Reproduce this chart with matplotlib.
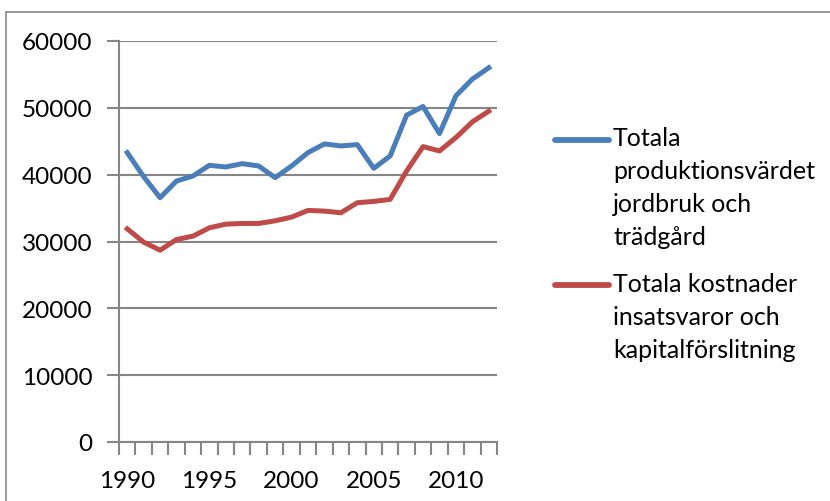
import matplotlib
matplotlib.use("Agg")
import matplotlib.pyplot as plt
from matplotlib.lines import Line2D
from matplotlib.patches import Rectangle

plt.rcParams['font.family'] = ['Lato', 'DejaVu Sans']

years = list(range(1990, 2013))
produktion = [43300, 39700, 36550, 39050, 39800, 41400, 41150, 41650, 41300, 39550,
              41300, 43300, 44600, 44300, 44500, 40950, 42800, 48900, 50200, 46150,
              51800, 54300, 56000]
kostnader = [31900, 29900, 28700, 30300, 30800, 32050, 32600, 32700, 32700, 33100,
             33650, 34650, 34550, 34300, 35800, 36000, 36300, 40550, 44200, 43550,
             45550, 47900, 49500]
label_prod = "Totala\nproduktionsvärdet\njordbruk och\nträdgård"
label_kost = "Totala kostnader\ninsatsvaror och\nkapitalförslitning"

blue = "#4A7EBB"
red = "#BE4B48"
grey = "#868686"
W, H = 830, 502

fig = plt.figure(figsize=(8.3, 5.02), dpi=100)
fig.patches.append(Rectangle((6 / W, -0.1), 1.1, 1 - 13 / H + 0.1, transform=fig.transFigure,
                             fill=False, edgecolor=grey, linewidth=1.2))
ax = fig.add_axes([119 / W, 1 - 443 / H, (497 - 119) / W, (443 - 42) / H])

x = list(range(len(years)))
ax.plot(x, produktion, color=blue, linewidth=3.6, solid_joinstyle='round')
ax.plot(x, kostnader, color=red, linewidth=3.6, solid_joinstyle='round')

ax.set_xlim(-0.5, len(years) - 0.5)
ax.set_ylim(0, 60000)
ax.set_yticks(range(0, 60001, 10000))
ax.yaxis.grid(True, color=grey, linewidth=1.5)
ax.set_axisbelow(True)
ax.tick_params(axis='y', length=9, width=1.5, color=grey, labelsize=17.5, pad=10, labelcolor='black')

ax.set_xticks([i for i in x if years[i] % 5 == 0])
ax.set_xticklabels([str(y) for y in years if y % 5 == 0])
ax.set_xticks([i - 0.5 for i in range(len(years) + 1)], minor=True)
ax.tick_params(axis='x', which='major', length=0, labelsize=17.5, pad=20)
ax.tick_params(axis='x', which='minor', length=9, width=1.5, color=grey)

for s in ['top', 'right']:
    ax.spines[s].set_visible(False)
for s in ['left', 'bottom']:
    ax.spines[s].set_color(grey)
    ax.spines[s].set_linewidth(1.5)

# legend drawn by hand so the key sits on the first text line
# (baseline alignment of multi-line text uses the last line)
for lab, col, ykey, ylast in [(label_prod, blue, 140.5, 245), (label_kost, red, 285.7, 358)]:
    fig.add_artist(Line2D([555 / W, 609 / W], [1 - ykey / H] * 2, transform=fig.transFigure,
                          color=col, linewidth=4.2, solid_capstyle='round'))
    fig.text(613 / W, 1 - ylast / H, lab, fontsize=18, va='baseline', ha='left',
             linespacing=1.52)

fig.savefig("out.png", dpi=100)
